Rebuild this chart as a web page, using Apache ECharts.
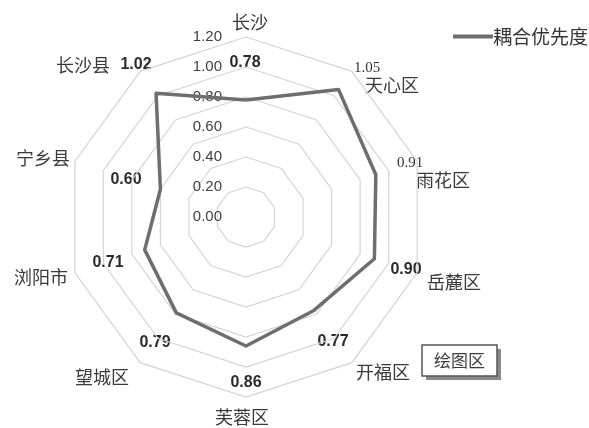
<!DOCTYPE html>
<html>
<head>
<meta charset="utf-8">
<script src="https://cdn.jsdelivr.net/npm/echarts@6/dist/echarts.min.js"></script>
<style>
  html, body { margin: 0; padding: 0; background: #fff; }
  #chart { width: 589px; height: 428px; }
</style>
</head>
<body>
<div id="chart"></div>
<script>
// Districts of Changsha, clockwise from the top
const districts = ['长沙', '天心区', '雨花区', '岳麓区', '开福区', '芙蓉区', '望城区', '浏阳市', '宁乡县', '长沙县'];
// Coupling priority per district
const priority = [0.78, 1.05, 0.91, 0.90, 0.77, 0.86, 0.79, 0.71, 0.60, 1.02];
const seriesName = '耦合优先度';
const axisMax = 1.2;
const axisSplits = 6;

// Radar geometry
const CX = 246, CY = 217, R = 180;

// ECharts lays radar indicators out counter-clockwise, so feed them in
// reverse (keeping the first one on top) to get a clockwise reading order.
const order = [0].concat(districts.map((_, i) => i).slice(1).reverse());

// Label placement (pixel offsets from the radar centre)
const nameOffsets = [
  [4, -195], [146, -132], [197, -37], [208, 65], [137, 155],
  [-4, 200], [-144, 160], [-205, 60], [-203, -59], [-163, -152]
];
const valueOffsets = [
  [-1, -154], [121, -149], [164, -54], [160, 53], [87, 125],
  [0, 166], [-91, 126], [-138, 46], [-120, -37], [-110, -152]
];
// These two values are set in a serif face, the rest in bold sans
const serifValue = [false, true, true, false, false, false, false, false, false, false];

const cjk = '"Noto Sans CJK SC", sans-serif';

const graphics = [];
districts.forEach((name, i) => {
  graphics.push({
    type: 'text',
    x: CX + nameOffsets[i][0], y: CY + nameOffsets[i][1],
    style: {
      text: name, fill: '#3a3a3a', font: '18px ' + cjk,
      align: 'center', verticalAlign: 'middle'
    }
  });
  graphics.push({
    type: 'text',
    x: CX + valueOffsets[i][0], y: CY + valueOffsets[i][1],
    style: {
      text: priority[i].toFixed(2),
      fill: serifValue[i] ? '#333' : '#2b2b2b',
      font: serifValue[i] ? '15px "Liberation Serif", serif' : 'bold 16px "Liberation Sans", Arial, sans-serif',
      align: 'center', verticalAlign: 'middle'
    }
  });
});

// "绘图区" tag with a drop shadow
graphics.push({
  type: 'rect', shape: { x: 426, y: 349, width: 75, height: 31 },
  style: { fill: '#8a8a8a' }, z: 10
});
graphics.push({
  type: 'rect', shape: { x: 422, y: 345, width: 75, height: 31 },
  style: { fill: '#fff', stroke: '#555', lineWidth: 1.5 }, z: 11
});
graphics.push({
  type: 'text', x: 459.5, y: 361, z: 12,
  style: { text: '绘图区', fill: '#3c3c3c', font: '17px ' + cjk, align: 'center', verticalAlign: 'middle' }
});

const chart = echarts.init(document.getElementById('chart'));
chart.setOption({
  animation: false,
  backgroundColor: '#fff',
  legend: {
    data: [seriesName],
    left: 448, top: 22,
    icon: 'rect', itemWidth: 40, itemHeight: 4, itemGap: 0,
    textStyle: { fontFamily: cjk, fontSize: 19, color: '#333', padding: [0, 0, 0, -5] }
  },
  radar: {
    center: [CX, CY],
    radius: R,
    shape: 'polygon',
    startAngle: 90,
    splitNumber: axisSplits,
    indicator: order.map(i => i === 0 ? {
      name: districts[i], min: 0, max: axisMax,
      axisLabel: {
        show: true, margin: 24, color: '#404040', fontSize: 15,
        fontFamily: '"Liberation Sans", Arial, sans-serif',
        formatter: v => Number(v).toFixed(2)
      }
    } : { name: districts[i], min: 0, max: axisMax }),
    axisName: { show: false },
    axisLine: { show: false },
    axisTick: { show: false },
    axisLabel: { show: false },
    splitLine: { lineStyle: { color: '#d4d4d4', width: 1.2 } },
    splitArea: { show: false }
  },
  series: [{
    type: 'radar',
    symbol: 'none',
    lineStyle: { color: '#6e6e6e', width: 3.5 },
    itemStyle: { color: '#6e6e6e' },
    data: [{ name: seriesName, value: order.map(i => priority[i]) }]
  }],
  graphic: graphics
});
</script>
</body>
</html>
